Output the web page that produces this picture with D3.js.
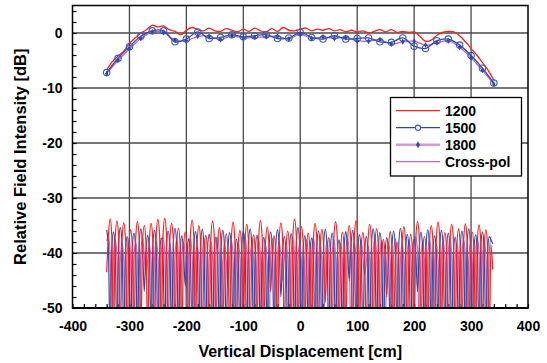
<html>
<head>
<meta charset="utf-8">
<script src="https://cdn.jsdelivr.net/npm/d3@7"></script>
<style>
  body { margin: 0; background: #fff; }
  text { font-family: "Liberation Sans", Arial, sans-serif; font-weight: bold; }
</style>
</head>
<body>
<script>
// ---- data ----
// co-pol, 1200 (red, no markers), every 10 cm from -340 to 340
var co1200 = [-6.7, -5.2, -4.2, -3.3, -1.9, -0.9, 0.0, 0.6, 1.4, 1.1,
              1.3, 0.6, 0.3, -0.3, 0.5, 1.0, 0.6, 0.4, 0.9, 0.4,
              0.3, 0.8, 0.5, 0.2, 0.7, 0.3, 0.9, 0.4, 0.2, 0.8,
              0.3, 1.0, 0.5, 0.4, 0.7, 0.9, 0.4, 0.7, 0.5, 0.8,
              0.4, 0.6, 0.2, 0.5, 0.2, 0.4, 0.0, 0.3, 0.6, 0.2,
              0.6, 0.1, 0.3, 0.1, 0.2, -0.6, -1.5, -1.3, -0.4, 0.1,
              0.3, 0.2, -0.5, -1.6, -2.8, -4.0, -5.4, -6.8, -8.6];
// co-pol 1500 / 1800, every 20 cm from -340 to 340
var co1500 = [-7.2, -4.6, -2.5, -0.6, 0.4, 0.4, -1.6, -1.1, 0.2, -1.0,
              -0.8, -0.3, -0.7, -0.5, -0.3, -1.0, -0.9, 0.1, -0.8, -1.1,
              -0.5, -1.1, -1.0, -0.9, -1.6, -1.7, -0.9, -2.4, -2.8, -1.4,
              -1.1, -2.2, -4.1, -6.4, -9.1];
var co1800 = [-7.4, -5.0, -2.9, -1.0, 0.2, 0.1, -1.3, -1.4, -0.6, -0.6,
              -1.2, -0.5, -0.9, -0.8, -0.7, -0.6, -1.1, -0.2, -1.0, -0.7,
              -1.0, -0.8, -1.4, -1.5, -1.2, -2.0, -1.6, -1.5, -2.2, -1.8,
              -1.4, -2.6, -4.5, -6.8, -9.3];

// cross-pol traces, every 3 cm from -340 (null, shoulder, peak, shoulder, ...)
var cross1200 = [
  -43.5, -37.0, -33.8, -36.9, -56, -37.3, -34.2, -37.1,
  -56, -37.6, -34.5, -37.4, -56, -38.9, -35.8, -38.7,
  -56, -37.4, -34.3, -37.2, -55, -38.1, -35.0, -37.9,
  -56, -37.7, -34.6, -37.5, -56, -37.0, -33.9, -36.8,
  -56, -36.8, -33.7, -36.6, -56, -37.7, -34.6, -37.5,
  -56, -38.6, -35.5, -38.4, -56, -39.3, -36.2, -39.1,
  -56, -37.1, -34.0, -36.9, -55, -38.1, -35.0, -37.9,
  -56, -39.9, -36.8, -39.7, -56, -37.3, -34.2, -37.1,
  -56, -38.5, -35.4, -38.3, -56, -39.6, -36.5, -39.4,
  -56, -37.5, -34.4, -37.3, -56, -39.0, -35.9, -38.8,
  -56, -37.9, -34.8, -37.7, -56, -39.8, -36.7, -39.6,
  -56, -37.2, -34.1, -37.0, -56, -38.4, -35.3, -38.2,
  -47, -40.0, -36.9, -39.8, -56, -37.6, -34.5, -37.4,
  -56, -39.1, -36.0, -38.9, -56, -37.0, -33.9, -36.8,
  -56, -38.3, -35.2, -38.1, -56, -39.5, -36.4, -39.3,
  -56, -37.7, -34.6, -37.5, -56, -38.8, -35.7, -38.6,
  -49, -40.3, -37.2, -40.1, -56, -37.4, -34.3, -37.2,
  -56, -39.3, -36.2, -39.1, -56, -38.1, -35.0, -37.9,
  -56, -37.2, -34.1, -37.0, -56, -39.4, -36.3, -39.2,
  -56, -37.9, -34.8, -37.7, -56, -38.7, -35.6, -38.5,
  -56, -40.6, -37.5, -40.4, -48, -39.2, -36.1, -39.0,
  -56, -41.1, -38.0, -40.9, -56, -38.3, -35.2, -38.1,
  -56, -39.7, -36.6, -39.5, -56, -37.4, -34.3, -37.2,
  -56, -40.1, -37.0, -39.9, -56, -38.1, -35.0, -37.9,
  -56, -37.5, -34.4, -37.3, -56, -39.4, -36.3, -39.2,
  -56, -37.9, -34.8, -37.7, -56, -38.7, -35.6, -38.5,
  -56, -37.8, -34.7, -37.6, -56, -39.3, -36.2, -39.1,
  -56, -38.0, -34.9, -37.8, -56, -38.9, -35.8, -38.7,
  -56, -38.5, -43.0];
var cross1500 = [
  -35.8, -38.8, -56, -39.2, -36.2, -39.2, -56, -38.4,
  -35.4, -38.4, -56, -40.0, -37.0, -40.0, -56, -39.4,
  -36.4, -39.4, -56, -38.6, -35.6, -38.6, -47, -39.8,
  -36.8, -39.8, -56, -38.9, -35.9, -38.9, -56, -40.3,
  -37.3, -40.3, -56, -39.0, -36.0, -39.0, -56, -38.5,
  -35.5, -38.5, -56, -39.9, -36.9, -39.9, -46, -40.4,
  -37.4, -40.4, -56, -39.1, -36.1, -39.1, -56, -38.7,
  -35.7, -38.7, -56, -39.6, -36.6, -39.6, -56, -40.1,
  -37.1, -40.1, -56, -38.9, -35.9, -38.9, -56, -39.3,
  -36.3, -39.3, -56, -40.5, -37.5, -40.5, -56, -39.0,
  -36.0, -39.0, -56, -38.6, -35.6, -38.6, -56, -39.8,
  -36.8, -39.8, -56, -40.2, -37.2, -40.2, -56, -39.2,
  -36.2, -39.2, -56, -38.8, -35.8, -38.8, -48, -40.0,
  -37.0, -40.0, -56, -39.5, -36.5, -39.5, -56, -38.4,
  -35.4, -38.4, -56, -39.9, -36.9, -39.9, -56, -40.3,
  -37.3, -40.3, -56, -39.0, -36.0, -39.0, -56, -38.7,
  -35.7, -38.7, -56, -39.4, -36.4, -39.4, -56, -40.6,
  -37.6, -40.6, -56, -39.1, -36.1, -39.1, -45, -38.9,
  -35.9, -38.9, -56, -39.7, -36.7, -39.7, -56, -40.0,
  -37.0, -40.0, -56, -38.6, -35.6, -38.6, -56, -39.3,
  -36.3, -39.3, -56, -40.2, -37.2, -40.2, -56, -39.0,
  -36.0, -39.0, -56, -38.5, -35.5, -38.5, -56, -39.6,
  -36.6, -39.6, -56, -40.4, -37.4, -40.4, -47, -39.2,
  -36.2, -39.2, -56, -38.8, -35.8, -38.8, -56, -39.9,
  -36.9, -39.9, -56, -38.9, -35.9, -38.9, -56, -39.4,
  -36.4, -39.4, -56, -40.1, -37.1, -40.1, -56, -39.0,
  -36.0, -39.0, -56, -38.6, -35.6, -38.6, -56, -39.7,
  -36.7, -39.7, -56, -39.2, -36.2, -39.2, -56, -40.0,
  -37.0, -37.6, -38.3];
var cross1800 = [
  -37.8, -37.0, -40.0, -56, -40.6, -37.6, -40.6, -56,
  -41.2, -38.2, -41.2, -56, -40.4, -37.4, -40.4, -56,
  -41.0, -38.0, -41.0, -56, -40.2, -37.2, -40.2, -44,
  -41.5, -38.5, -41.5, -56, -40.8, -37.8, -40.8, -56,
  -40.1, -37.1, -40.1, -56, -41.3, -38.3, -41.3, -56,
  -40.6, -37.6, -40.6, -56, -41.0, -38.0, -41.0, -56,
  -40.3, -37.3, -40.3, -56, -41.6, -38.6, -41.6, -56,
  -40.5, -37.5, -40.5, -56, -40.9, -37.9, -40.9, -56,
  -40.2, -37.2, -40.2, -56, -41.4, -38.4, -41.4, -46,
  -40.7, -37.7, -40.7, -56, -41.1, -38.1, -41.1, -56,
  -40.0, -37.0, -40.0, -56, -41.2, -38.2, -41.2, -56,
  -40.6, -37.6, -40.6, -56, -41.5, -38.5, -41.5, -56,
  -40.4, -37.4, -40.4, -56, -40.8, -37.8, -40.8, -45,
  -41.0, -38.0, -41.0, -56, -40.3, -37.3, -40.3, -56,
  -41.3, -38.3, -41.3, -56, -40.6, -37.6, -40.6, -56,
  -40.1, -37.1, -40.1, -56, -41.4, -38.4, -41.4, -56,
  -40.9, -37.9, -40.9, -56, -40.5, -37.5, -40.5, -56,
  -41.2, -38.2, -41.2, -56, -40.3, -37.3, -40.3, -56,
  -41.0, -38.0, -41.0, -56, -40.7, -37.7, -40.7, -44,
  -41.6, -38.6, -41.6, -56, -40.2, -37.2, -40.2, -56,
  -40.8, -37.8, -40.8, -56, -41.1, -38.1, -41.1, -56,
  -40.4, -37.4, -40.4, -56, -41.3, -38.3, -41.3, -56,
  -40.6, -37.6, -40.6, -56, -40.0, -37.0, -40.0, -56,
  -41.0, -38.0, -41.0, -56, -40.5, -37.5, -40.5, -56,
  -41.4, -38.4, -41.4, -56, -40.9, -37.9, -40.9, -56,
  -40.3, -37.3, -40.3, -56, -41.2, -38.2, -41.2, -56,
  -40.6, -37.6, -40.6, -56, -41.0, -38.0, -41.0, -56,
  -40.2, -37.2, -40.2, -56, -40.7, -37.7, -40.7, -56,
  -40.0, -37.0];

// sample positions [cm]
function grid(start, step, n) {
  return d3.range(n).map(function(i) { return start + step * i; });
}
var x10 = grid(-340, 10, co1200.length);
var x20 = grid(-340, 20, co1500.length);

var xTicks = [-400, -300, -200, -100, 0, 100, 200, 300, 400];
var yTicks = [-50, -40, -30, -20, -10, 0];
var legendNames = ["1200", "1500", "1800", "Cross-pol"];

var red = "#ff2020", blue = "#2e4aa8", pink = "#c266b8", pinkLight = "#d89ad0";

// ---- layout ----
var W = 547, H = 363;
var L = 72.5, R = 528, T = 5.5, B = 308;

var svg = d3.select("body").append("svg")
            .attr("width", W).attr("height", H);

var x = d3.scaleLinear().domain([-400, 400]).range([L, R]);
var y = d3.scaleLinear().domain([-50, 5]).range([B, T]);

svg.append("clipPath").attr("id", "clip")
   .append("rect").attr("x", L).attr("y", T).attr("width", R - L).attr("height", B - T);

// grid lines
var gl = svg.append("g").attr("stroke", "#4a4a4a").attr("stroke-width", 1.3);
gl.selectAll("line.gx").data(xTicks.slice(1, -1)).enter().append("line")
  .attr("x1", function(d) { return x(d); }).attr("x2", function(d) { return x(d); })
  .attr("y1", T).attr("y2", B);
gl.selectAll("line.gy").data(yTicks.slice(1)).enter().append("line")
  .attr("x1", L).attr("x2", R)
  .attr("y1", function(d) { return y(d); }).attr("y2", function(d) { return y(d); });

// inner ticks
svg.append("g").attr("transform", "translate(0," + B + ")")
   .call(d3.axisBottom(x).tickValues(d3.range(-400, 401, 20)).tickSize(-4).tickFormat(""))
   .call(function(g) { g.select(".domain").remove(); g.selectAll("line").attr("stroke-width", 1.2); });
svg.append("g").attr("transform", "translate(" + L + ",0)")
   .call(d3.axisLeft(y).tickValues(d3.range(-50, 5.1, 2)).tickSize(-4).tickFormat(""))
   .call(function(g) { g.select(".domain").remove(); g.selectAll("line").attr("stroke-width", 1.2); });

// tick labels (plain hyphen minus, like the original)
function styleLabels(g) {
  g.select(".domain").remove();
  g.selectAll("text").attr("font-size", 14).attr("fill", "#000")
   .attr("font-family", "Liberation Sans, Arial, sans-serif").attr("font-weight", "bold");
}
svg.append("g").attr("transform", "translate(0," + B + ")")
   .call(d3.axisBottom(x).tickValues(xTicks).tickSize(0).tickPadding(13)
           .tickFormat(function(d) { return String(d); }))
   .call(styleLabels);
svg.append("g").attr("transform", "translate(" + L + ",0)")
   .call(d3.axisLeft(y).tickValues(yTicks).tickSize(0).tickPadding(10)
           .tickFormat(function(d) { return String(d); }))
   .call(styleLabels);

// curves
var plot = svg.append("g").attr("clip-path", "url(#clip)");
function lineOf(xs, curve) {
  return d3.line()
           .x(function(d, i) { return x(xs[i]); })
           .y(function(d) { return y(d); })
           .curve(curve);
}
function addLine(vals, xs, color, w, curve) {
  plot.append("path").attr("d", lineOf(xs, curve)(vals))
      .attr("fill", "none").attr("stroke", color).attr("stroke-width", w)
      .attr("stroke-linejoin", "round");
}

addLine(cross1800, grid(-340, 3, cross1800.length), pink, 1.2, d3.curveMonotoneX);
addLine(cross1500, grid(-340, 3, cross1500.length), blue, 1.2, d3.curveMonotoneX);
addLine(cross1200, grid(-340, 3, cross1200.length), red, 1.2, d3.curveMonotoneX);

addLine(co1200, x10, red, 1.3, d3.curveCatmullRom);
addLine(co1800, x20, pink, 1.3, d3.curveCatmullRom);
addLine(co1500, x20, blue, 1.3, d3.curveCatmullRom);

plot.selectAll("circle.m15").data(co1500).enter().append("circle")
    .attr("cx", function(d, i) { return x(x20[i]); })
    .attr("cy", function(d) { return y(d); })
    .attr("r", 3.2).attr("fill", "none").attr("stroke", "#3a5cc0").attr("stroke-width", 1.1);
plot.selectAll("path.m18").data(co1800).enter().append("path")
    .attr("d", d3.symbol().type(d3.symbolDiamond).size(10))
    .attr("transform", function(d, i) { return "translate(" + x(x20[i]) + "," + y(d) + ")"; })
    .attr("fill", blue);

// frame
svg.append("rect").attr("x", L).attr("y", T).attr("width", R - L).attr("height", B - T)
   .attr("fill", "none").attr("stroke", "#000").attr("stroke-width", 1.5);
svg.append("line").attr("x1", L - 0.5).attr("x2", R + 0.5).attr("y1", B).attr("y2", B)
   .attr("stroke", "#000").attr("stroke-width", 2.2);

// axis titles
svg.append("text").attr("x", (L + R) / 2).attr("y", 357).attr("text-anchor", "middle")
   .attr("font-size", 16).text("Vertical Displacement [cm]");
svg.append("text").attr("transform", "translate(26," + ((T + B) / 2) + ") rotate(-90)")
   .attr("text-anchor", "middle").attr("font-size", 16.5).text("Relative Field Intensity [dB]");

// legend
var lg = svg.append("g");
lg.append("rect").attr("x", 390.5).attr("y", 97.5).attr("width", 131).attr("height", 78.5)
  .attr("fill", "#fff").attr("stroke", "#000").attr("stroke-width", 1.3);
var rowY = d3.scalePoint().domain(legendNames).range([110.7, 161.7]);
var legColor = { "1200": red, "1500": blue, "1800": pinkLight, "Cross-pol": pink };
var legWidth = { "1200": 1.3, "1500": 1.3, "1800": 2.4, "Cross-pol": 1.3 };
legendNames.forEach(function(n) {
  var yy = rowY(n);
  lg.append("line").attr("x1", 396).attr("x2", 440).attr("y1", yy).attr("y2", yy)
    .attr("stroke", legColor[n]).attr("stroke-width", legWidth[n]);
  if (n === "1500") {
    lg.append("circle").attr("cx", 418).attr("cy", yy).attr("r", 2.6)
      .attr("fill", "#fff").attr("stroke", "#3a5cc0").attr("stroke-width", 1.1);
  }
  if (n === "1800") {
    lg.append("path").attr("d", d3.symbol().type(d3.symbolDiamond).size(14))
      .attr("transform", "translate(418," + yy + ")").attr("fill", blue);
  }
  lg.append("text").attr("x", 445).attr("y", yy + 5).attr("font-size", 14).text(n);
});
</script>
</body>
</html>
